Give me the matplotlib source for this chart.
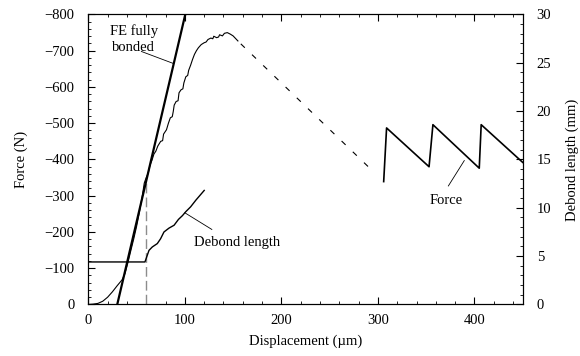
import matplotlib
matplotlib.use("Agg")
import matplotlib.pyplot as plt
from matplotlib.ticker import MultipleLocator

plt.rcParams["font.family"] = ["Liberation Serif", "DejaVu Serif"]
plt.rcParams["font.size"] = 10.5

# measured force (N) vs displacement (um), loading part
force_x = [0, 5, 10, 15, 20, 25, 30, 35, 38, 41, 44, 47, 50, 53, 56, 58, 60,
           62, 64, 66, 68, 70, 72, 75, 77, 78, 81, 83, 85, 87, 88, 89, 91, 93,
           94, 96, 98, 99, 101, 103, 104, 106, 108, 110, 112, 114, 117, 120,
           122, 124, 127, 129, 130, 133, 135, 136, 139, 141, 144, 147, 150,
           155]
force_y = [0, -1, -3, -9, -20, -35, -52, -68, -85, -115, -148, -180, -215,
           -255, -300, -335, -350, -362, -385, -398, -415, -423, -437, -450,
           -452, -470, -482, -500, -515, -518, -532, -550, -560, -562, -584,
           -592, -595, -611, -628, -632, -646, -660, -676, -690, -700, -708,
           -717, -722, -724, -731, -735, -733, -740, -736, -738, -744, -741,
           -748, -750, -746, -741, -727]

# unstable part (dashed)
dash_x = [158, 295.5]
dash_y = [-719, -366]

# stick-slip part
saw_x = [306, 309, 353, 357, 405, 407, 450]
saw_y = [-339, -487, -380, -496, -376, -496, -392]

# FE prediction, fully bonded
fe_x = [30, 101]
fe_y = [0, -806]

# debond length (mm)
debond_x = [0, 58.7, 62.9, 66.3, 71.5, 74.9, 78.4, 83.6, 88.9, 93.4, 97.6,
            101, 106, 111.5, 120.1]
debond_y = [4.4, 4.4, 5.6, 5.95, 6.3, 6.8, 7.5, 7.9, 8.2, 8.8, 9.2, 9.6,
            10.1, 10.8, 11.8]

onset_x = 59.5
onset_f = -335

fig = plt.figure(figsize=(5.8, 3.56), dpi=100)
ax = fig.add_axes([0.1522, 0.1447, 0.9012 - 0.1522, 0.9593 - 0.1447])
ax2 = ax.twinx()

ax.plot(fe_x, fe_y, color="black", lw=1.6, zorder=3)
ax.plot(force_x, force_y, color="black", lw=0.8, zorder=3)
ax.plot(dash_x, dash_y, color="black", lw=0.8, dashes=(5, 9))
ax.plot(saw_x, saw_y, color="black", lw=1.2)
ax.plot([onset_x, onset_x], [0, onset_f], color="0.55", lw=1.0, dashes=(7, 3))
ax2.plot(debond_x, debond_y, color="black", lw=1.0)

ax.set_xlim(0, 450)
ax.set_ylim(0, -800)
ax2.set_ylim(0, 30)

ax.xaxis.set_major_locator(MultipleLocator(100))
ax.xaxis.set_minor_locator(MultipleLocator(20))
ax.yaxis.set_major_locator(MultipleLocator(100))
ax.yaxis.set_minor_locator(MultipleLocator(20))
ax2.yaxis.set_major_locator(MultipleLocator(5))
ax2.yaxis.set_minor_locator(MultipleLocator(1))

ax.tick_params(which="both", direction="in", top=True, right=False)
ax.tick_params(which="major", length=5, width=0.8, pad=10)
ax.tick_params(which="minor", length=2.5, width=0.6)
ax2.tick_params(which="both", direction="in")
ax2.tick_params(which="major", length=5, width=0.8, pad=10)
ax2.tick_params(which="minor", length=2.5, width=0.6)
ax.tick_params(axis="x", which="major", pad=7)

ax.set_xlabel("Displacement (\u00b5m)", labelpad=5)
ax.set_ylabel("Force (N)", labelpad=12)
ax2.set_ylabel("Debond length (mm)", labelpad=10)

ax.text(47, -731, "FE fully\nbonded", ha="center", va="center",
        linespacing=1.3)
ax.plot([55, 88], [-698, -665], color="black", lw=0.6)

ax.text(154, -171, "Debond length", ha="center", va="center")
ax.plot([100, 128], [-253, -207], color="black", lw=0.6)

ax.text(371, -288, "Force", ha="center", va="center")
ax.plot([373, 389.5], [-327, -397], color="black", lw=0.6)

fig.savefig("out.png", dpi=100)
